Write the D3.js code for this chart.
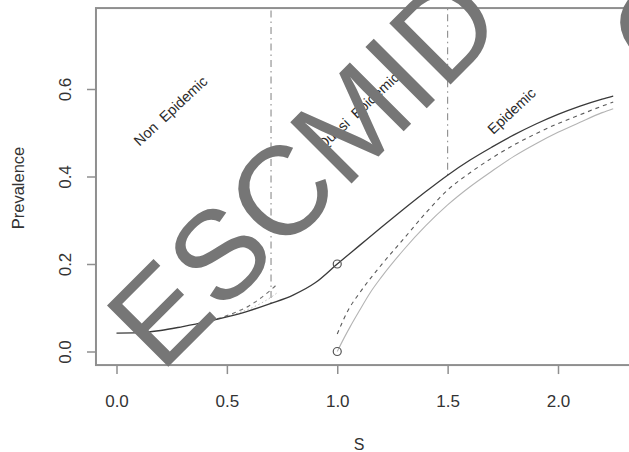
<!DOCTYPE html>
<html>
<head>
<meta charset="utf-8">
<script src="https://cdn.jsdelivr.net/npm/d3@7"></script>
<style>
  html, body { margin: 0; padding: 0; background: #fff; }
  svg { display: block; font-family: "Liberation Sans", Arial, Helvetica, sans-serif; }
</style>
</head>
<body>
<svg id="chart" width="629" height="452"></svg>
<script>
// Prevalence against S, with the three regimes separated at S = 0.7 and S = 1.5
const xTicks = [0.0, 0.5, 1.0, 1.5, 2.0];
const yTicks = [0.0, 0.2, 0.4, 0.6];

// Full model (solid)
const solidS = [0.0, 0.1, 0.2, 0.3, 0.4, 0.5, 0.6, 0.7, 0.8, 0.9, 1.0, 1.1, 1.2, 1.3, 1.4, 1.5, 1.6, 1.7, 1.8, 1.9, 2.0, 2.1, 2.2, 2.25];
const solidP = [0.042, 0.043, 0.048, 0.057, 0.067, 0.079, 0.093, 0.110, 0.129, 0.157, 0.200, 0.242, 0.284, 0.325, 0.365, 0.403, 0.437, 0.467, 0.495, 0.520, 0.542, 0.561, 0.577, 0.584];

// Approximation (dashed), two branches
const dashLeftS = [0.42, 0.5, 0.55, 0.6, 0.65, 0.7, 0.73];
const dashLeftP = [0.070, 0.082, 0.092, 0.104, 0.121, 0.141, 0.155];
const dashRightS = [1.0, 1.05, 1.1, 1.2, 1.3, 1.4, 1.5, 1.6, 1.7, 1.8, 1.9, 2.0, 2.1, 2.2, 2.25];
const dashRightP = [0.040, 0.095, 0.133, 0.198, 0.257, 0.316, 0.369, 0.408, 0.442, 0.472, 0.498, 0.521, 0.541, 0.561, 0.570];

// Simple endemic level (thin grey), two branches
const greyLeftS = [0.42, 0.5, 0.55, 0.6, 0.65, 0.7, 0.73];
const greyLeftP = [0.069, 0.080, 0.088, 0.097, 0.109, 0.124, 0.135];
const greyRightS = [1.0, 1.03, 1.06, 1.1, 1.15, 1.2, 1.3, 1.4, 1.5, 1.6, 1.7, 1.8, 1.9, 2.0, 2.1, 2.2, 2.25];
const greyRightP = [0.000, 0.030, 0.058, 0.093, 0.135, 0.170, 0.232, 0.287, 0.335, 0.376, 0.412, 0.446, 0.475, 0.501, 0.524, 0.546, 0.555];

// Threshold markers
const thresholdS = [0.7, 1.5];
const pointS = [1.0, 1.0];
const pointP = [0.2, 0.0];

// Regime labels
const regionNames = ["Non  Epidemic", "Quasi  Epidemic", "Epidemic"];
const regionS = [0.245, 1.095, 1.79];
const regionP = [0.55, 0.55, 0.55];

const svg = d3.select("#chart");
const x = d3.scaleLinear().domain([0, 2]).range([116.5, 558]);
const y = d3.scaleLinear().domain([0, 0.6]).range([351.5, 89]);

const box = { left: x(-0.093), right: x(2.39), top: y(0.785), bottom: y(-0.031) };

const toPts = (xs, ys) => xs.map((s, i) => [s, ys[i]]);
const line = d3.line().x(d => x(d[0])).y(d => y(d[1])).curve(d3.curveMonotoneX);

const plot = svg.append("g");

// Regime boundaries: dot-dash, from the curve up to the top of the frame
thresholdS.forEach(s => {
  const i = solidS.indexOf(s);
  plot.append("line")
    .attr("x1", x(s)).attr("x2", x(s))
    .attr("y1", y(solidP[i])).attr("y2", box.top)
    .attr("stroke", "#8c8c8c").attr("stroke-width", 1.1)
    .attr("stroke-dasharray", "1.5,4,7,4");
});

// Curves
plot.append("path").attr("d", line(toPts(greyLeftS, greyLeftP)))
  .attr("fill", "none").attr("stroke", "#bdbdbd").attr("stroke-width", 1)
  .attr("stroke-dasharray", "1.5,2.5");
plot.append("path").attr("d", line(toPts(greyRightS, greyRightP)))
  .attr("fill", "none").attr("stroke", "#b4b4b4").attr("stroke-width", 1.1);
plot.append("path").attr("d", line(toPts(dashLeftS, dashLeftP)))
  .attr("fill", "none").attr("stroke", "#6e6e6e").attr("stroke-width", 1.1)
  .attr("stroke-dasharray", "4,4");
plot.append("path").attr("d", line(toPts(dashRightS, dashRightP)))
  .attr("fill", "none").attr("stroke", "#5a5a5a").attr("stroke-width", 1.1)
  .attr("stroke-dasharray", "4,4");
plot.append("path").attr("d", line(toPts(solidS, solidP)))
  .attr("fill", "none").attr("stroke", "#3a3a3a").attr("stroke-width", 1.3);

// Open circles at S = 1
plot.selectAll("circle.pt").data(toPts(pointS, pointP)).join("circle")
  .attr("class", "pt")
  .attr("cx", d => x(d[0])).attr("cy", d => y(d[1])).attr("r", 4)
  .attr("fill", "none").attr("stroke", "#555").attr("stroke-width", 1.2);

// Regime labels
plot.selectAll("text.region").data(regionNames).join("text")
  .attr("class", "region")
  .attr("transform", (d, i) => `translate(${x(regionS[i])},${y(regionP[i])}) rotate(-43)`)
  .attr("text-anchor", "middle").attr("dy", "0.35em")
  .attr("font-size", 14.5).attr("fill", "#2a2a2a")
  .style("white-space", "pre")
  .text(d => d);

// Frame
svg.append("rect")
  .attr("x", box.left).attr("y", box.top)
  .attr("width", box.right - box.left).attr("height", box.bottom - box.top)
  .attr("fill", "none").attr("stroke", "#8f8f8f").attr("stroke-width", 2);

// Axes
const xAxis = svg.append("g")
  .attr("transform", `translate(0,${box.bottom})`)
  .call(d3.axisBottom(x).tickValues(xTicks).tickFormat(d3.format(".1f")).tickSize(9).tickPadding(21));
const yAxis = svg.append("g")
  .attr("transform", `translate(${box.left},0)`)
  .call(d3.axisLeft(y).tickValues(yTicks).tickFormat(d3.format(".1f")).tickSize(9).tickPadding(0));

[xAxis, yAxis].forEach(g => {
  g.select(".domain").remove();
  g.selectAll(".tick line").attr("stroke", "#8f8f8f").attr("stroke-width", 1.5);
  g.selectAll(".tick text").attr("fill", "#333").attr("font-size", 17).attr("font-family", "Liberation Sans, Arial, sans-serif");
});
yAxis.selectAll(".tick text")
  .attr("x", null).attr("dy", null)
  .attr("text-anchor", "middle")
  .attr("transform", "translate(-31,0) rotate(-90) translate(0,6)");

// Axis titles
svg.append("text")
  .attr("x", 359).attr("y", 450)
  .attr("text-anchor", "middle").attr("font-size", 16).attr("fill", "#333")
  .text("S");
svg.append("text")
  .attr("transform", "translate(24,188) rotate(-90)")
  .attr("text-anchor", "middle").attr("font-size", 16.5).attr("fill", "#333")
  .text("Prevalence");

// Watermark across the figure
const mark = svg.append("g").attr("fill", "#767676");
mark.append("text")
  .attr("transform", "translate(161,374) rotate(-45)")
  .attr("font-size", 126)
  .text("ESCMID");
mark.append("text")
  .attr("transform", "translate(664,22) rotate(-45)")
  .attr("text-anchor", "middle").attr("dy", "0.36em")
  .attr("font-size", 125)
  .text("O");
</script>
</body>
</html>
